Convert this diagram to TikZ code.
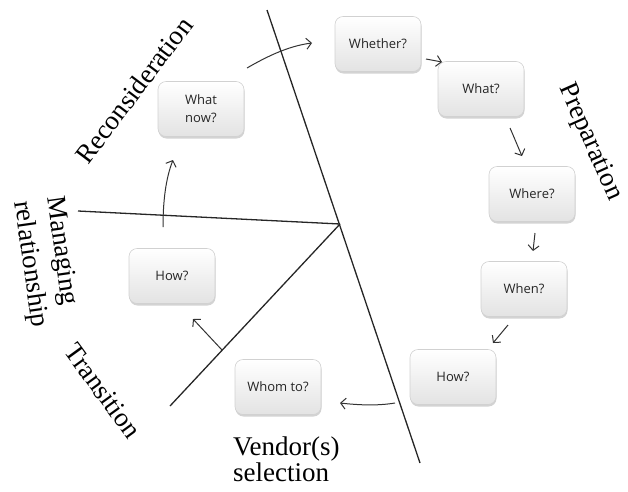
\documentclass[tikz,border=0pt]{standalone}
\usepackage{fontspec}
\setmainfont{Liberation Serif}
\newfontfamily\boxfont{Open Sans}
\usetikzlibrary{arrows.meta,shadows}
\begin{document}
\begin{tikzpicture}[x=1pt,y=-1pt,
  qbox/.style={draw=black!18, line width=0.6pt, rounded corners=8pt,
    minimum width=86pt, minimum height=55pt, top color=white, bottom color=black!11,
    drop shadow={opacity=0.35, shadow xshift=0.5pt, shadow yshift=-2pt},
    font=\boxfont\fontsize{13}{18}\selectfont, text=black!85, align=center, inner sep=0pt},
  lbl/.style={font=\fontsize{27}{30}\selectfont, inner sep=0pt},
  axisline/.style={line width=1.3pt, black!85},
  flow/.style={line width=1pt, black!80, -{Straight Barb[length=5pt,width=11pt]}}
]
\useasboundingbox (0,0) rectangle (628,491);

% axes
\coordinate (top) at (267,10);
\coordinate (bot) at (420,463);
\coordinate (hub) at (340,224);
\coordinate (lft) at (78,211);
\coordinate (llow) at (170,406);
\draw[axisline] (top) -- (bot);
\draw[axisline] (lft) -- (hub);
\draw[axisline] (llow) -- (hub);

% boxes
\node[qbox] (whether) at (378,44) {Whether?};
\node[qbox] (what) at (481,89) {What?};
\node[qbox] (where) at (532,194) {Where?};
\node[qbox] (when) at (524,289) {When?};
\node[qbox] (howr) at (453,377) {How?};
\node[qbox] (whom) at (278,387) {Whom to?};
\node[qbox] (howl) at (172,276) {How?};
\node[qbox] (whatnow) at (201,109) {What\\now?};

% arrow end points
\coordinate (a1s) at (247,68);  \coordinate (a1e) at (312,43);
\coordinate (a2s) at (426,59);  \coordinate (a2e) at (442,62);
\coordinate (a3s) at (510,128); \coordinate (a3e) at (522,156);
\coordinate (a4s) at (535,233); \coordinate (a4e) at (533,251);
\coordinate (a5s) at (508,325); \coordinate (a5e) at (493,343);
\coordinate (a6s) at (395,403); \coordinate (a6e) at (340,403);
\coordinate (a7s) at (222,350); \coordinate (a7e) at (193,319);
\coordinate (a8s) at (163,227); \coordinate (a8e) at (173,160);

\draw[flow] (a1s) .. controls (266,57) and (288,46) .. (a1e);
\draw[flow] (a2s) -- (a2e);
\draw[flow] (a3s) .. controls (514,137) and (518,147) .. (a3e);
\draw[flow] (a4s) -- (a4e);
\draw[flow] (a5s) -- (a5e);
\draw[flow] (a6s) .. controls (377,406) and (358,405) .. (a6e);
\draw[flow] (a7s) -- (a7e);
\draw[flow] (a8s) .. controls (163,200) and (166,178) .. (a8e);

% labels
\node[lbl, rotate=53] (recon) at (134,90) {Reconsideration};
\node[lbl, rotate=-66] (prep) at (590,142) {Preparation};
\node[lbl, rotate=-54] (trans) at (103,391) {Transition};
\node[lbl, rotate=-82, align=left, font=\fontsize{27}{33}\selectfont] (manage) at (46,262) {Managing\\relationship};
\node[lbl, align=left, anchor=north west, font=\fontsize{27}{26}\selectfont] (vendor) at (233,437) {Vendor(s)\\selection};
\end{tikzpicture}
\end{document}
